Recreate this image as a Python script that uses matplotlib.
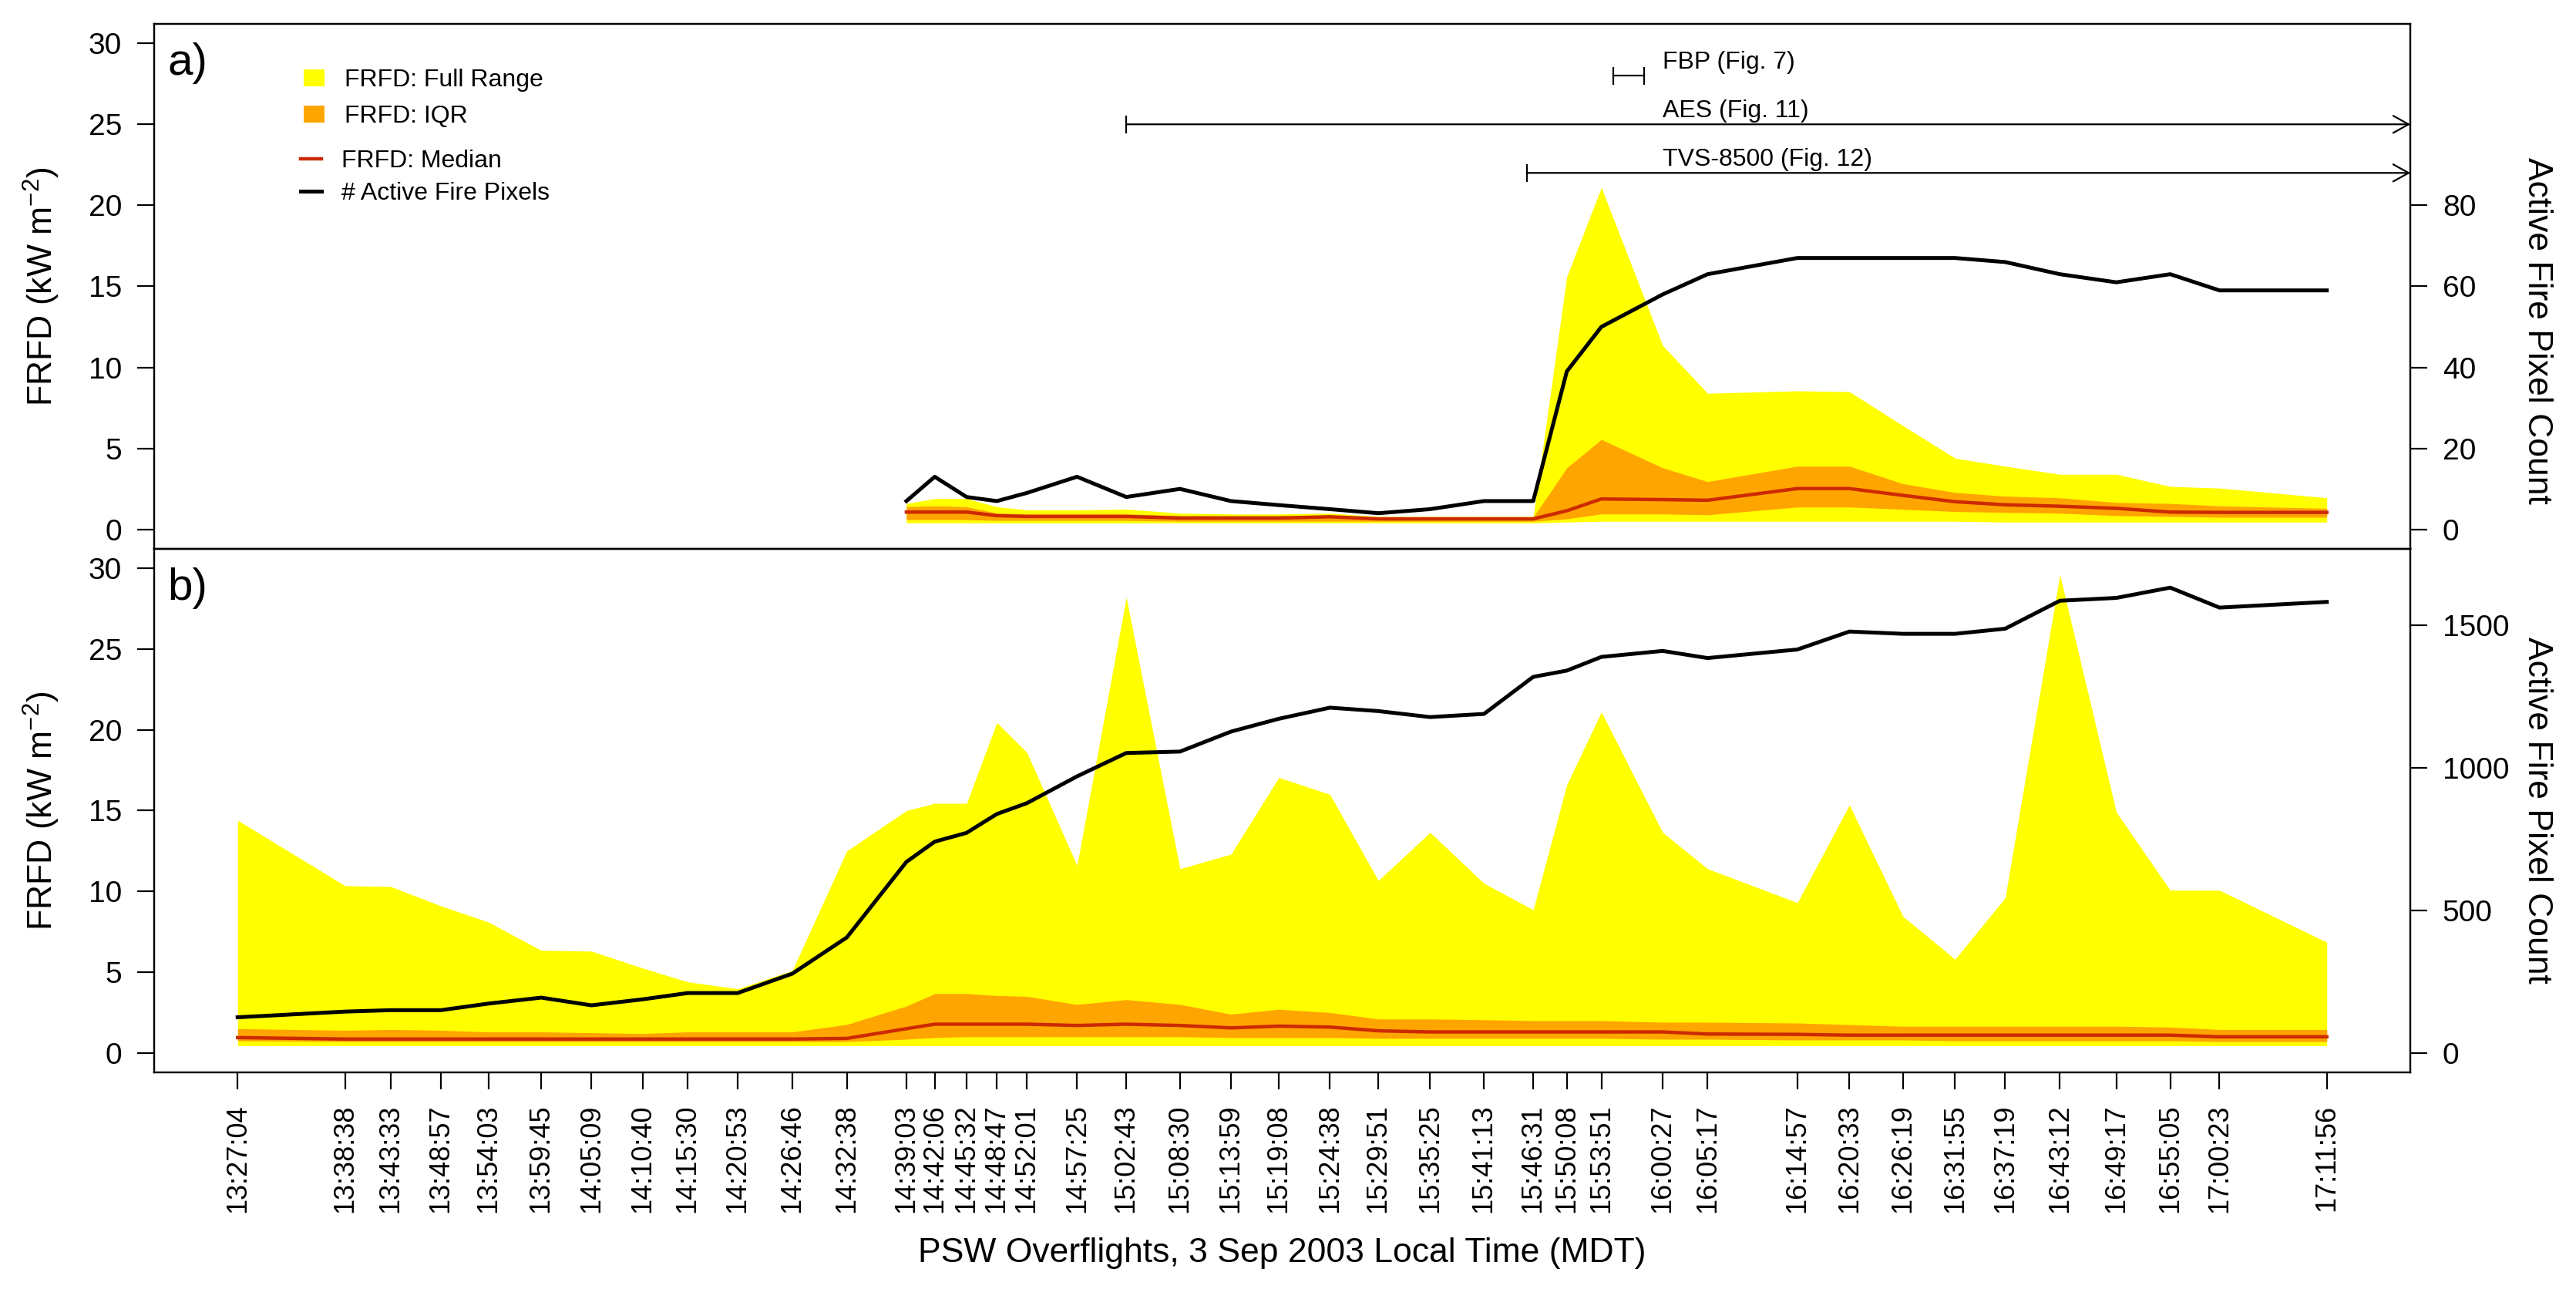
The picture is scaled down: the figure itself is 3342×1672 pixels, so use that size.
import matplotlib.pyplot as plt
from matplotlib.patches import Patch
from matplotlib.lines import Line2D

plt.rcParams['font.family'] = ['Liberation Sans', 'DejaVu Sans']
plt.rcParams['mathtext.fontset'] = 'custom'
plt.rcParams['mathtext.rm'] = 'Liberation Sans'
plt.rcParams['mathtext.it'] = 'Liberation Sans:italic'

# overflight times (tick labels), 3 Sep 2003 MDT
times_b = [
    "13:27:04", "13:38:38", "13:43:33", "13:48:57", "13:54:03", "13:59:45",
    "14:05:09", "14:10:40", "14:15:30", "14:20:53", "14:26:46", "14:32:38",
    "14:39:03", "14:42:06", "14:45:32", "14:48:47", "14:52:01", "14:57:25",
    "15:02:43", "15:08:30", "15:13:59", "15:19:08", "15:24:38", "15:29:51",
    "15:35:25", "15:41:13", "15:46:31", "15:50:08", "15:53:51", "16:00:27",
    "16:05:17", "16:14:57", "16:20:33", "16:26:19", "16:31:55", "16:37:19",
    "16:43:12", "16:49:17", "16:55:05", "17:00:23", "17:11:56",
]
# panel a only starts at 14:39:03
times_a = times_b[12:]

# panel a: FRFD stats (kW m-2) and active fire pixel count
a_min = [0.4, 0.4, 0.4, 0.4, 0.4, 0.4, 0.4, 0.4, 0.4, 0.4, 0.4, 0.4, 0.4, 0.4, 0.4,
         0.45, 0.5, 0.5, 0.5, 0.5, 0.5, 0.5, 0.5, 0.45, 0.45, 0.45, 0.45, 0.45, 0.45]
a_q1 = [0.6, 0.6, 0.6, 0.55, 0.55, 0.55, 0.55, 0.5, 0.5, 0.5, 0.5, 0.5, 0.5, 0.5, 0.5,
        0.65, 0.95, 0.95, 0.9, 1.38, 1.38, 1.24, 1.1, 1.05, 1.0, 0.85, 0.8, 0.75, 0.75]
a_med = [1.07, 1.07, 1.07, 0.85, 0.8, 0.8, 0.8, 0.7, 0.7, 0.7, 0.78, 0.65, 0.65, 0.65, 0.65,
         1.15, 1.88, 1.84, 1.8, 2.52, 2.52, 2.1, 1.71, 1.52, 1.43, 1.3, 1.07, 1.05, 1.05]
a_q3 = [1.4, 1.45, 1.4, 1.0, 0.95, 0.95, 0.95, 0.85, 0.85, 0.85, 0.85, 0.75, 0.75, 0.75, 0.75,
        3.8, 5.55, 3.8, 2.95, 3.9, 3.9, 2.82, 2.28, 2.05, 1.95, 1.66, 1.6, 1.45, 1.3]
a_max = [1.6, 1.9, 1.9, 1.4, 1.2, 1.2, 1.25, 1.0, 0.95, 0.95, 1.0, 0.8, 0.8, 0.8, 0.8,
         15.6, 21.1, 11.35, 8.4, 8.55, 8.5, 6.4, 4.4, 3.9, 3.4, 3.4, 2.65, 2.55, 1.95]
a_count = [7, 13, 8, 7, 9, 13, 8, 10, 7, 6, 5, 4, 5, 7, 7,
           39, 50, 58, 63, 67, 67, 67, 67, 66, 63, 61, 63, 59, 59]

# panel b
b_min = [0.45] * 41
b_q1 = [0.75, 0.7, 0.7, 0.7, 0.7, 0.7, 0.7, 0.7, 0.7, 0.7, 0.7, 0.7, 0.85, 0.95,
        1.0, 1.0, 1.0, 1.0, 1.0, 1.0, 0.95, 0.95, 0.95, 0.9, 0.9, 0.9, 0.9, 0.9,
        0.9, 0.85, 0.85, 0.8, 0.8, 0.8, 0.75, 0.75, 0.75, 0.75, 0.75, 0.7, 0.7]
b_med = [0.95, 0.86, 0.86, 0.86, 0.86, 0.86, 0.86, 0.86, 0.86, 0.86, 0.86, 0.9, 1.5,
         1.78, 1.78, 1.78, 1.78, 1.7, 1.78, 1.7, 1.55, 1.66, 1.6, 1.37, 1.3, 1.3, 1.3,
         1.3, 1.3, 1.3, 1.17, 1.15, 1.1, 1.1, 1.1, 1.1, 1.1, 1.1, 1.1, 1.0, 1.0]
b_q3 = [1.5, 1.4, 1.45, 1.4, 1.3, 1.3, 1.25, 1.2, 1.3, 1.3, 1.3, 1.76, 2.9, 3.67,
        3.67, 3.55, 3.5, 3.0, 3.3, 3.0, 2.4, 2.7, 2.5, 2.1, 2.1, 2.05, 2.0, 2.0, 2.0,
        1.9, 1.9, 1.85, 1.75, 1.65, 1.65, 1.65, 1.65, 1.65, 1.6, 1.45, 1.45]
b_max = [14.4, 10.35, 10.3, 9.1, 8.1, 6.35, 6.3, 5.25, 4.4, 3.97, 5.1, 12.5, 15.0,
         15.45, 15.45, 20.45, 18.6, 11.6, 28.2, 11.4, 12.3, 17.05, 16.0, 10.67, 13.65,
         10.5, 8.86, 16.6, 21.1, 13.65, 11.4, 9.3, 15.35, 8.45, 5.8, 9.6, 29.6, 14.9,
         10.07, 10.07, 6.85]
b_count = [125, 145, 150, 150, 173, 194, 167, 188, 210, 210, 278, 405, 670, 741, 772,
           838, 876, 970, 1052, 1057, 1127, 1172, 1211, 1199, 1178, 1189, 1319, 1341,
           1389, 1410, 1385, 1415, 1478, 1470, 1470, 1488, 1586, 1596, 1632, 1562, 1582]

# sensor coverage bars in panel a
cov_labels = ["FBP (Fig. 7)", "AES (Fig. 11)", "TVS-8500 (Fig. 12)"]
cov_start = ["15:55:10", "15:02:43", "15:45:52"]
cov_end = ["15:58:29", None, None]  # None = continues past the end
cov_level = [28, 25, 22]
cov_text_at = "16:00:27"


def hours(s):
    h, m, sec = (int(p) for p in s.split(":"))
    return h + m / 60 + sec / 3600


xb = [hours(t) for t in times_b]
xa = [hours(t) for t in times_a]
pad = 0.04 * (xb[-1] - xb[0])
xmin, xmax = xb[0] - pad, xb[-1] + pad

YELLOW = "#ffff00"
ORANGE = "#ffa500"
RED = "#cc2a00"

fig = plt.figure(figsize=(16.71, 8.36), dpi=200)
ax_a = fig.add_axes([0.0598, 0.5742, 0.8759, 0.4073])
ax_b = fig.add_axes([0.0598, 0.1681, 0.8759, 0.4061])

panels = [
    (ax_a, xa, a_min, a_q1, a_med, a_q3, a_max, a_count, 120, range(0, 81, 20), "a)", 0.415),
    (ax_b, xb, b_min, b_q1, b_med, b_q3, b_max, b_count, 1700, range(0, 1501, 500), "b)", 0.5),
]

for ax, x, mn, q1, med, q3, mx, cnt, cmax, cticks, tag, rlab_y in panels:
    ax.fill_between(x, mn, mx, color=YELLOW, lw=0)
    ax.fill_between(x, q1, q3, color=ORANGE, lw=0)
    ax.plot(x, med, color=RED, lw=1.6)
    ax.set_xlim(xmin, xmax)
    ax.set_ylim(-1.2, 31.2)
    ax.set_yticks(range(0, 31, 5))
    ax.tick_params(axis="y", length=8, width=0.8, labelsize=14, pad=7)
    ax.set_ylabel("FRFD (kW m$^{-2}$)", fontsize=16, va="center")
    ax.yaxis.set_label_coords(-0.05, 0.5)
    ax.text(0.006, 0.965, tag, transform=ax.transAxes, fontsize=21, va="top", ha="left")

    tw = ax.twinx()
    tw.plot(x, cnt, color="black", lw=1.8)
    tw.set_ylim(-0.04 * cmax, 1.04 * cmax)
    tw.set_yticks(list(cticks))
    tw.tick_params(axis="y", length=8, width=0.8, labelsize=14, pad=7)
    tw.set_ylabel("Active Fire Pixel Count", fontsize=16, rotation=270, va="center")
    tw.yaxis.set_label_coords(1.056, rlab_y)

    for a in (ax, tw):
        for sp in a.spines.values():
            sp.set_linewidth(0.8)

ax_a.tick_params(axis="x", bottom=False, labelbottom=False)
ax_b.set_xticks(xb)
ax_b.set_xticklabels(times_b, rotation=90, fontsize=13)
ax_b.tick_params(axis="x", length=8, width=0.8, pad=7)
fig.text(0.4976, 0.028, "PSW Overflights, 3 Sep 2003 Local Time (MDT)",
         fontsize=16, ha="center", va="center")

# coverage bars
tx = hours(cov_text_at)
for lab, s, e, lev in zip(cov_labels, cov_start, cov_end, cov_level):
    xs = hours(s)
    ax_a.plot([xs, xs], [lev - 0.5, lev + 0.5], color="black", lw=0.8)
    if e is None:
        ax_a.annotate("", xy=(xmax, lev), xytext=(xs, lev),
                      arrowprops=dict(arrowstyle="->,head_length=0.72,head_width=0.4",
                                      lw=0.8, color="black", shrinkA=0, shrinkB=0,
                                      mutation_scale=10))
    else:
        xe = hours(e)
        ax_a.plot([xs, xe], [lev, lev], color="black", lw=0.8)
        ax_a.plot([xe, xe], [lev - 0.5, lev + 0.5], color="black", lw=0.8)
    ax_a.text(tx, lev + 0.42, lab, fontsize=11.5, ha="left", va="baseline")

# legends
fill_handles = [Patch(color=YELLOW, lw=0), Patch(color=ORANGE, lw=0)]
leg1 = ax_a.legend(fill_handles, ["FRFD: Full Range", "FRFD: IQR"],
                   loc="upper left", bbox_to_anchor=(0.0663, 0.914), frameon=False,
                   fontsize=11.5, handlelength=0.85, handleheight=0.7,
                   handletextpad=0.8, labelspacing=0.53, borderpad=0, borderaxespad=0)
ax_a.add_artist(leg1)
line_handles = [Line2D([], [], color=RED, lw=1.6), Line2D([], [], color="black", lw=1.8)]
ax_a.legend(line_handles, ["FRFD: Median", "# Active Fire Pixels"],
            loc="upper left", bbox_to_anchor=(0.0649, 0.761), frameon=False,
            fontsize=11.5, handlelength=0.85, handletextpad=0.8,
            labelspacing=0.4, borderpad=0, borderaxespad=0)

fig.savefig("out.png", dpi=200)
